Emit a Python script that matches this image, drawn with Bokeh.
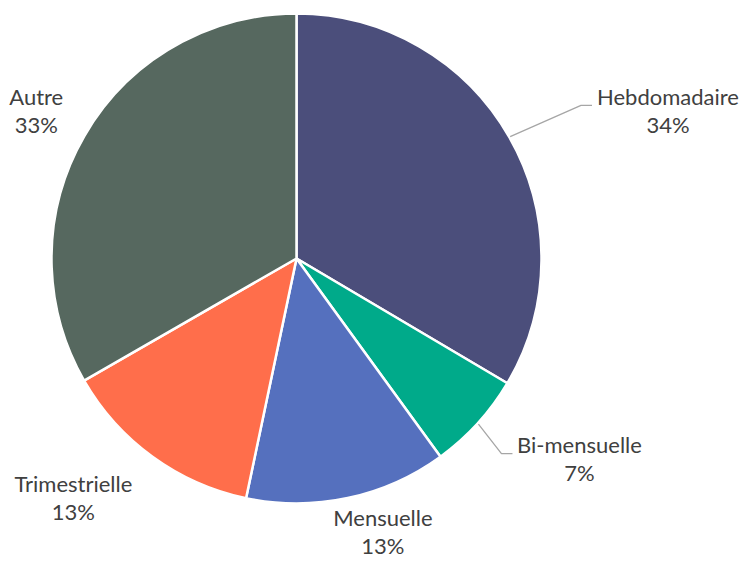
import math
from bokeh.plotting import figure
from bokeh.models import Range1d, ColumnDataSource
from bokeh.embed import file_html
from bokeh.resources import INLINE
from bokeh.core.properties import value

# ---- data ----
categories = ["Hebdomadaire", "Bi-mensuelle", "Mensuelle", "Trimestrielle", "Autre"]
shares = [33.5, 6.5, 13.3, 13.4, 33.3]
pct_labels = ["34%", "7%", "13%", "13%", "33%"]

# ---- styles / layout ----
colors = ["#4B4E7B", "#00AA8A", "#5570BE", "#FF6E4B", "#56685F"]
W, H = 744, 565
CX, CY = 296, 307          # pie centre in plot units (1 unit = 1 px)
R = 245
# label placement: (angle from 12 o'clock clockwise in degrees, distance from centre)
label_polar = [(68.6, 399), (125.6, 348), (162.6, 289), (222.7, 329), (299.15, 298)]
# leader line: horizontal end offset from label centre (None = no leader)
leader_dx = [-76, -67, None, None, None]
LINE_GAP = 14.0
TEXT_SHIFT = 2.5           # font baseline correction (upwards)
FONT = "Lato"
FONT_SIZE = "22px"
TEXT_COLOR = "#404040"

total = sum(shares)
starts, ends, mids = [], [], []
cum = 0.0
for s in shares:
    a0 = cum / total
    cum += s
    a1 = cum / total
    starts.append(math.pi / 2 - 2 * math.pi * a1)
    ends.append(math.pi / 2 - 2 * math.pi * a0)
    mids.append((a0 + a1) / 2 * 360.0)

p = figure(width=W, height=H, x_range=Range1d(0, W), y_range=Range1d(0, H),
           output_backend="svg", toolbar_location=None, min_border=0,
           x_axis_type=None, y_axis_type=None)
p.grid.visible = False
p.outline_line_color = None
p.background_fill_color = "white"

src = ColumnDataSource(dict(cat=categories, start=starts, end=ends, color=colors))
p.wedge(x=CX, y=CY, radius=R, start_angle="start", end_angle="end",
        direction="anticlock", fill_color="color", line_color="white",
        line_width=2.5, source=src)

name_x, name_y, pct_x, pct_y = [], [], [], []
for i, (ang, dist) in enumerate(label_polar):
    t = math.radians(ang)
    lx = CX + dist * math.sin(t)
    ly = CY + dist * math.cos(t)
    name_x.append(lx); name_y.append(ly + LINE_GAP + TEXT_SHIFT)
    pct_x.append(lx); pct_y.append(ly - LINE_GAP + TEXT_SHIFT)
    if leader_dx[i] is not None:
        m = math.radians(mids[i])
        sx = CX + (R + 1) * math.sin(m)
        sy = CY + (R + 1) * math.cos(m)
        ex = lx + leader_dx[i]
        ey = ly + LINE_GAP - 6.5
        p.line([sx, ex - 11, ex], [sy, ey, ey], line_color="#A6A6A6", line_width=1.3)

p.text(x=name_x, y=name_y, text=categories, text_font=value(FONT),
       text_font_size=FONT_SIZE, text_color=TEXT_COLOR,
       text_align="center", text_baseline="middle")
p.text(x=pct_x, y=pct_y, text=pct_labels, text_font=value(FONT),
       text_font_size=FONT_SIZE, text_color=TEXT_COLOR,
       text_align="center", text_baseline="middle")

open("out.html", "w").write(file_html(p, INLINE))
